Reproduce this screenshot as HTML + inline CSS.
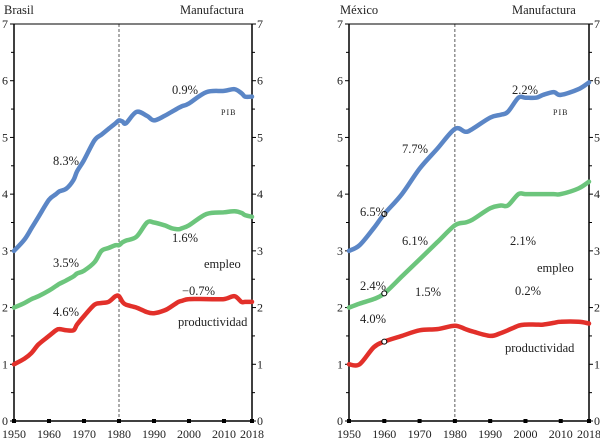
<!DOCTYPE html>
<html><head><meta charset="utf-8"><style>
body{margin:0;background:#fff;}
svg{display:block;font-family:"Liberation Serif",serif;}
</style></head><body>
<svg id="c" width="600" height="444" viewBox="0 0 600 444"></svg>
<script>
const years=[1950,1960,1970,1980,1990,2000,2010,2018];
const yTicks=[0,1,2,3,4,5,6,7];
const brYears=[1950,1953,1955,1957,1960,1962,1963,1965,1967,1968,1970,1973,1975,1977,1979,1980,1981,1982,1985,1988,1990,1993,1995,1997,1998,2000,2005,2010,2013,2015,2016,2018];
const brPib=[3.0,3.2,3.4,3.6,3.9,4.0,4.05,4.1,4.25,4.4,4.6,4.95,5.05,5.15,5.25,5.3,5.28,5.25,5.45,5.38,5.3,5.38,5.45,5.52,5.55,5.6,5.8,5.82,5.85,5.78,5.72,5.72];
const brEmp=[2.0,2.08,2.15,2.2,2.3,2.38,2.42,2.48,2.55,2.6,2.65,2.8,3.0,3.05,3.1,3.1,3.15,3.18,3.25,3.5,3.5,3.45,3.4,3.38,3.4,3.45,3.65,3.68,3.7,3.67,3.63,3.6];
const brPro=[1.0,1.1,1.2,1.35,1.5,1.6,1.62,1.6,1.6,1.7,1.85,2.05,2.08,2.1,2.2,2.2,2.1,2.05,2.0,1.92,1.9,1.95,2.02,2.1,2.12,2.15,2.15,2.15,2.2,2.1,2.1,2.1];
const mxYears=[1950,1953,1957,1960,1965,1970,1975,1980,1983,1985,1990,1993,1995,1998,2000,2003,2005,2008,2010,2015,2018];
const mxPib=[3.0,3.1,3.4,3.65,4.0,4.45,4.8,5.15,5.1,5.15,5.35,5.4,5.45,5.7,5.7,5.7,5.75,5.8,5.75,5.85,5.97];
const mxEmp=[2.0,2.07,2.15,2.25,2.55,2.85,3.15,3.45,3.5,3.55,3.75,3.8,3.8,4.0,4.0,4.0,4.0,4.0,4.0,4.1,4.22];
const mxPro=[1.0,1.0,1.3,1.4,1.5,1.6,1.62,1.68,1.62,1.58,1.5,1.55,1.6,1.68,1.7,1.7,1.7,1.73,1.75,1.75,1.72];
const svg=document.getElementById('c');const NS='http://www.w3.org/2000/svg';
function mk(t,a,p){const e=document.createElementNS(NS,t);for(const k in a)e.setAttribute(k,a[k]);(p||svg).appendChild(e);return e;}
const Y=v=>421-v*(397/7);
function smooth(pts){
 let d='M'+pts[0][0].toFixed(1)+','+pts[0][1].toFixed(1);
 for(let i=0;i<pts.length-1;i++){
  const p0=pts[Math.max(i-1,0)],p1=pts[i],p2=pts[i+1],p3=pts[Math.min(i+2,pts.length-1)];
  const c1=[p1[0]+(p2[0]-p0[0])/6,p1[1]+(p2[1]-p0[1])/6],c2=[p2[0]-(p3[0]-p1[0])/6,p2[1]-(p3[1]-p1[1])/6];
  d+='C'+c1.map(n=>n.toFixed(1))+' '+c2.map(n=>n.toFixed(1))+' '+p2[0].toFixed(1)+','+p2[1].toFixed(1);
 }
 return d;
}
function panel(x0,x1,yrs,series,name,labels,markers){
 const X=y=>x0+(y-1950)*(x1-x0)/68;
 const g=mk('g',{});
 
 
 mk('line',{x1:X(1980),x2:X(1980),y1:Y(7),y2:Y(0),stroke:'#333','stroke-width':0.8,'stroke-dasharray':'3,2'},g);
 mk('line',{x1:x0,x2:x1,y1:Y(7),y2:Y(7),stroke:'#000','stroke-width':1},g);
 mk('line',{x1:x0,x2:x1,y1:Y(0),y2:Y(0),stroke:'#000','stroke-width':1.5},g);
 mk('line',{x1:x0,x2:x0,y1:Y(7),y2:Y(0),stroke:'#000','stroke-width':1.5},g);
 mk('line',{x1:x1,x2:x1,y1:Y(7),y2:Y(0),stroke:'#000','stroke-width':1.5},g);
 for(let v=0;v<=7;v+=0.5){
  const L=v%1?3:4;
  mk('line',{x1:x0-L,x2:x0,y1:Y(v),y2:Y(v),stroke:'#000'},g);
  mk('line',{x1:x1,x2:x1+L,y1:Y(v),y2:Y(v),stroke:'#000'},g);
 }
 yTicks.forEach(v=>{
  const a=mk('text',{x:x0-6,y:Y(v)+4,'text-anchor':'end','font-size':12,fill:'#222'},g);a.textContent=v;
  
  const b=mk('text',{x:x1+5,y:Y(v)+4,'font-size':12,fill:'#222'},g);b.textContent=v;
  
 });
 years.forEach(y=>{
  mk('rect',{x:X(y)-2,y:Y(0)-2,width:4,height:4,fill:'#000'},g);
  const t=mk('text',{x:X(y),y:438,'text-anchor':'middle','font-size':12,fill:'#222'},g);t.textContent=y;
  
 });
 series.forEach(s=>{
  const p=mk('path',{d:smooth(s.v.map((v,i)=>[X(yrs[i]),Y(v)])),fill:'none',stroke:s.c,'stroke-width':4.5,'stroke-linejoin':'round','stroke-linecap':'round'},g);
  
  if(markers){const i=yrs.indexOf(1960);mk('circle',{cx:X(1960),cy:Y(s.v[i]),r:2.5,fill:'#fff',stroke:'#000','stroke-width':1},g);}
 });
 labels.forEach(l=>{
  const t=mk('text',{x:l[1],y:l[2],'font-size':l[3]||12.5,fill:'#222','letter-spacing':l[4]||0},g);t.textContent=l[0];
  
 });
}
panel(14,252,brYears,[{v:brPib,c:'#5b86c6',n:'pib'},{v:brEmp,c:'#6cc57c',n:'empleo'},{v:brPro,c:'#e2302a',n:'productividad'}],'brasil',
 [['Brasil',4,14,12.5],['Manufactura',180,14,12.5],['0.9%',172,94],['PIB',221,115,8,1],['8.3%',53,165],['1.6%',172,242],['empleo',204,268],['3.5%',53,267],['−0.7%',182,295],['4.6%',53,316],['productividad',178,326]],false);
panel(349,589,mxYears,[{v:mxPib,c:'#5b86c6',n:'pib'},{v:mxEmp,c:'#6cc57c',n:'empleo'},{v:mxPro,c:'#e2302a',n:'productividad'}],'mexico',
 [['México',340,14,12.5],['Manufactura',512,14,12.5],['2.2%',512,94],['PIB',553,115,8,1],['7.7%',402,153],['6.5%',360,216],['2.1%',510,245],['6.1%',402,245],['empleo',537,272],['2.4%',360,290],['1.5%',415,296],['0.2%',515,295],['4.0%',360,323],['productividad',505,352]],true);
</script>
</body></html>
